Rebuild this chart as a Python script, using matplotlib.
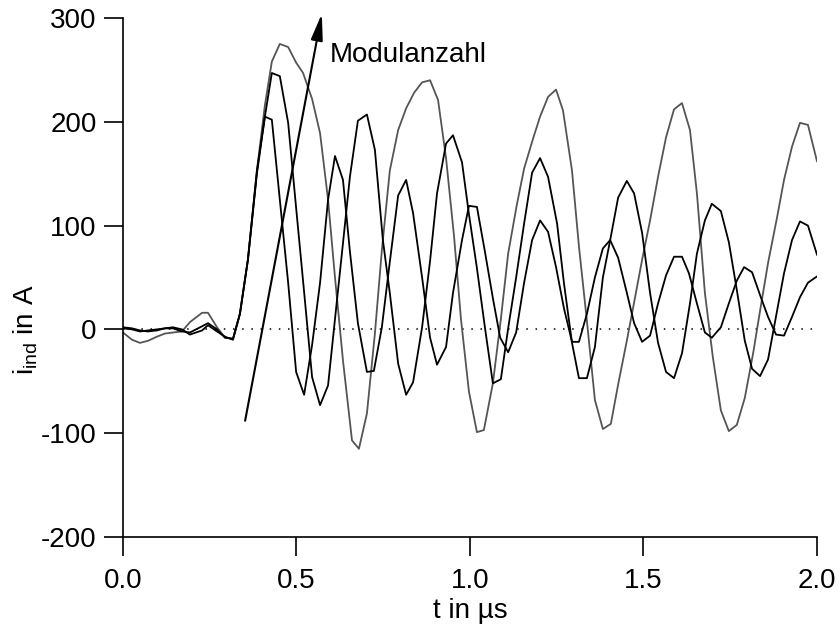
import matplotlib
matplotlib.use("Agg")
import matplotlib.pyplot as plt

plt.rcParams['font.family'] = ['Liberation Sans', 'DejaVu Sans']
plt.rcParams['mathtext.fontset'] = 'custom'
plt.rcParams['mathtext.rm'] = 'Liberation Sans'
plt.rcParams['axes.unicode_minus'] = False

# Induced current i_ind (A) over time t (µs) for three module counts
t_gray = [0.000, 0.026, 0.049, 0.072, 0.098, 0.121, 0.144, 0.170, 0.193, 0.228,
          0.245, 0.271, 0.294, 0.317, 0.337, 0.360, 0.386, 0.409, 0.429, 0.452,
          0.476, 0.499, 0.519, 0.545, 0.568, 0.591, 0.611, 0.634, 0.660, 0.680,
          0.703, 0.726, 0.746, 0.769, 0.793, 0.816, 0.839, 0.862, 0.885, 0.908,
          0.931, 0.954, 0.974, 0.997, 1.020, 1.040, 1.066, 1.089, 1.110, 1.135,
          1.156, 1.182, 1.202, 1.225, 1.248, 1.268, 1.294, 1.314, 1.337, 1.360,
          1.383, 1.406, 1.427, 1.452, 1.473, 1.496, 1.519, 1.542, 1.565, 1.588,
          1.611, 1.634, 1.654, 1.677, 1.700, 1.723, 1.746, 1.769, 1.792, 1.816,
          1.836, 1.859, 1.885, 1.905, 1.928, 1.951, 1.974, 2.000]
i_gray = [-3, -10, -13, -11, -7, -4, -3, -2, 7, 16,
          16, 2, -8, -9, 15, 67, 153, 216, 258, 275,
          272, 257, 247, 222, 189, 125, 50, -30, -107, -115,
          -81, -4, 76, 153, 192, 213, 228, 238, 240, 221,
          165, 90, 10, -60, -99, -97, -52, 10, 73, 120,
          155, 184, 205, 224, 231, 211, 153, 80, 8, -68,
          -96, -91, -53, -11, 26, 67, 105, 147, 185, 212,
          218, 192, 131, 35, -27, -78, -98, -92, -66, -23,
          18, 64, 108, 144, 176, 199, 197, 162]

t_mid = [0.000, 0.026, 0.049, 0.072, 0.098, 0.121, 0.144, 0.170, 0.193, 0.228,
         0.245, 0.271, 0.294, 0.317, 0.337, 0.360, 0.386, 0.409, 0.429, 0.452,
         0.476, 0.499, 0.522, 0.545, 0.568, 0.591, 0.611, 0.634, 0.654, 0.677,
         0.703, 0.726, 0.749, 0.769, 0.793, 0.816, 0.836, 0.862, 0.885, 0.905,
         0.931, 0.951, 0.977, 0.997, 1.020, 1.043, 1.066, 1.089, 1.110, 1.133,
         1.156, 1.179, 1.202, 1.225, 1.251, 1.271, 1.294, 1.314, 1.337, 1.360,
         1.383, 1.404, 1.427, 1.452, 1.473, 1.496, 1.519, 1.542, 1.565, 1.588,
         1.611, 1.634, 1.654, 1.677, 1.697, 1.723, 1.746, 1.769, 1.792, 1.813,
         1.836, 1.859, 1.885, 1.905, 1.928, 1.951, 1.974, 2.000]
i_mid = [1, 0, -2, -1, 0, 1, 1, -2, -3, 3,
         6, 0, -8, -9, 15, 67, 150, 205, 247, 244,
         199, 117, 36, -46, -73, -54, 10, 83, 147, 201,
         207, 173, 86, 35, -33, -63, -51, 2, 66, 131,
         179, 187, 161, 111, 59, 2, -52, -48, 1, 50,
         102, 151, 165, 147, 102, 44, -13, -47, -47, -17,
         50, 86, 127, 143, 131, 93, 35, -13, -41, -47,
         -23, 25, 73, 105, 121, 114, 84, 38, -11, -38,
         -45, -29, 18, 54, 86, 104, 100, 72]

t_fast = [0.000, 0.026, 0.049, 0.072, 0.098, 0.121, 0.144, 0.170, 0.193, 0.228,
          0.245, 0.271, 0.294, 0.317, 0.337, 0.360, 0.386, 0.409, 0.429, 0.452,
          0.476, 0.499, 0.522, 0.545, 0.568, 0.591, 0.611, 0.634, 0.654, 0.677,
          0.703, 0.723, 0.746, 0.769, 0.793, 0.816, 0.836, 0.862, 0.885, 0.905,
          0.931, 0.951, 0.977, 0.997, 1.020, 1.043, 1.066, 1.087, 1.110, 1.133,
          1.156, 1.179, 1.202, 1.225, 1.248, 1.271, 1.294, 1.314, 1.337, 1.360,
          1.383, 1.404, 1.427, 1.450, 1.473, 1.496, 1.519, 1.542, 1.565, 1.588,
          1.611, 1.631, 1.654, 1.677, 1.697, 1.723, 1.746, 1.769, 1.790, 1.813,
          1.836, 1.859, 1.882, 1.905, 1.928, 1.951, 1.974, 2.000]
i_fast = [2, 1, -1, -2, -1, 1, 2, 0, -5, -1,
          4, -2, -7, -10, 15, 67, 153, 205, 202, 125,
          45, -41, -63, -15, 45, 125, 167, 144, 75, 6,
          -41, -40, 2, 65, 129, 144, 112, 50, -8, -34,
          -17, 35, 86, 119, 118, 75, 30, -8, -22, -3,
          45, 86, 105, 94, 60, 20, -12, -12, 15, 50,
          78, 86, 69, 38, 6, -12, -6, 25, 52, 70,
          70, 54, 25, -3, -8, 2, 25, 47, 60, 55,
          33, 12, -5, -6, 12, 31, 45, 51]

x_ticks = [0.0, 0.5, 1.0, 1.5, 2.0]
x_tick_labels = ['0.0', '0.5', '1.0', '1.5', '2.0']
y_ticks = [-200, -100, 0, 100, 200, 300]

fig = plt.figure(figsize=(8.4, 6.31), dpi=100)
ax = fig.add_axes([0.1464, 0.149, 0.8262, 0.8225])

ax.axhline(0, color='black', lw=1.1, ls=(0, (1, 5)), zorder=1)
ax.plot(t_gray, i_gray, color='#555555', lw=1.3, zorder=2)
ax.plot(t_mid, i_mid, color='black', lw=1.3, zorder=3)
ax.plot(t_fast, i_fast, color='black', lw=1.3, zorder=3)

# arrow indicating increasing number of modules
ax.annotate('', xy=(0.573, 304), xytext=(0.352, -88),
            arrowprops=dict(arrowstyle='-|>,head_length=0.8,head_width=0.18',
                            mutation_scale=20, color='black', lw=1.5,
                            shrinkA=0, shrinkB=0),
            annotation_clip=False)
ax.text(0.597, 264, 'Modulanzahl', fontsize=20, ha='left', va='center')

ax.set_xlim(0, 2.0)
ax.set_ylim(-200, 300)
ax.set_xticks(x_ticks)
ax.set_xticklabels(x_tick_labels)
ax.set_yticks(y_ticks)
for side in ('top', 'right'):
    ax.spines[side].set_visible(False)
for side in ('left', 'bottom'):
    ax.spines[side].set_linewidth(1.2)
ax.tick_params(direction='out', length=14, width=1.2, labelsize=20, pad=5)
ax.tick_params(axis='x', pad=8)

ax.set_xlabel('t in µs', fontsize=20)
ax.xaxis.set_label_coords(0.5, -0.118)
ax.set_ylabel(r'$\mathregular{i_{ind}}$ in A', fontsize=20)
ax.yaxis.set_label_coords(-0.12, 0.399)

fig.savefig('out.png', dpi=100)
